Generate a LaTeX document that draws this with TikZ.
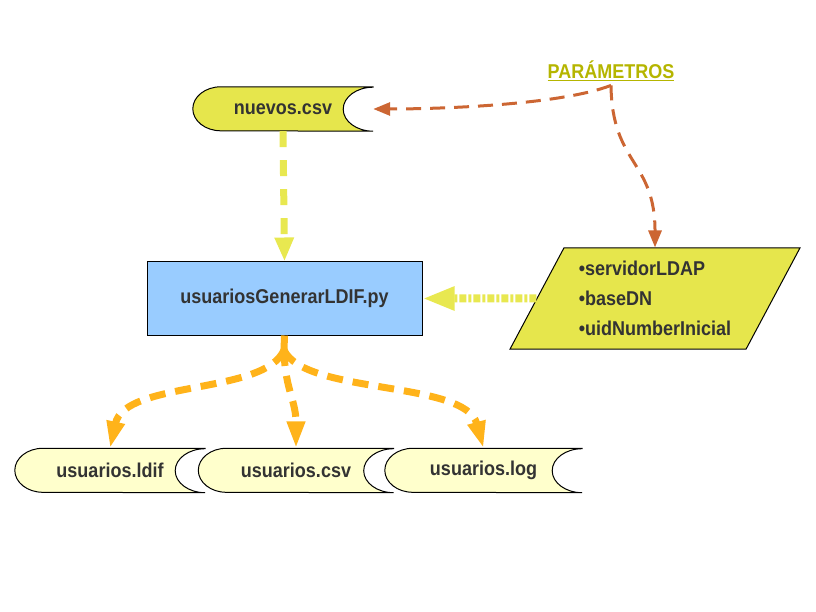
\documentclass[tikz,border=0pt]{standalone}
\usepackage{fontspec}
\setmainfont{Liberation Sans}[FakeStretch=0.9]
\usetikzlibrary{shapes.geometric, arrows.meta, positioning, calc, backgrounds}
\definecolor{fileyellow}{HTML}{E6E64C}
\definecolor{palefile}{HTML}{FFFFCC}
\definecolor{boxblue}{HTML}{99CCFF}
\definecolor{textgray}{HTML}{333333}
\definecolor{paramgold}{HTML}{B5B500}
\definecolor{paramorange}{HTML}{CC6633}
\definecolor{outamber}{HTML}{FFB31A}
\definecolor{inyellow}{HTML}{E8E850}
\newcommand{\boxfont}{\fontsize{20}{30}\selectfont\bfseries}
\newcommand{\storedfile}[2]{%
  \begin{pgfonlayer}{background}
  \filldraw[fill=#2, draw=black, line width=1pt] (#1.north east) -- ($(#1.north west)+(28,0)$)
    arc[start angle=90, end angle=270, x radius=28pt, y radius=22pt]
    -- (#1.south east)
    arc[start angle=270, end angle=90, x radius=30pt, y radius=22pt] -- cycle;
  \end{pgfonlayer}}
\tikzset{
    file/.style={rectangle, minimum width=180pt, minimum height=44pt, inner sep=0pt, text centered, text=textgray, font=\boxfont},
    process/.style={rectangle, draw=black, line width=1pt, fill=boxblue, minimum width=275pt, minimum height=73pt, text centered, text=textgray, font=\boxfont},
    paramset/.style={trapezium, trapezium left angle=60, trapezium right angle=120, trapezium stretches, minimum width=290pt, minimum height=101pt, draw=black, line width=1pt, fill=fileyellow, align=left, text=textgray, font=\boxfont},
    paramlabel/.style={text=paramgold, font=\boxfont, inner sep=4pt},
    inflow/.style={draw=inyellow, line width=7pt, dash pattern=on 16pt off 13pt, -{Triangle[length=24pt, width=18pt]}},
    paramfeed/.style={draw=inyellow, line width=8pt, dash pattern=on 7pt off 2pt on 3pt off 2pt, -{Triangle[length=32pt, width=22pt]}},
    paramflow/.style={draw=paramorange, line width=3pt, dash pattern=on 15pt off 9pt, -{Triangle[length=17pt, width=13pt]}},
    outflow/.style={draw=outamber, line width=7pt, dash pattern=on 16pt off 10pt, -{Triangle[length=27pt, width=17pt]}}
}
\begin{document}
\begin{tikzpicture}[x=1pt, y=-1pt]
    \useasboundingbox (0,0) rectangle (816,612);
    % Nodes
    \node (nuevos) [file] at (283,109) {nuevos.csv};
    \node (gen) [process] at (284.5,298.5) {usuariosGenerarLDIF.py};
    \node (params) [paramset] at (655,298.5) {•servidorLDAP\\•baseDN\\•uidNumberInicial};
    \node (plabel) [paramlabel, anchor=base] at (611,79) {\underline{PARÁMETROS}};
    \node (ldif) [file, minimum width=190pt] at (110,470.5) {usuarios.ldif};
    \node (csv) [file, minimum width=195pt] at (296,470.5) {usuarios.csv};
    \node (log) [file, minimum width=197pt] at (483.5,470.5) {usuarios.log};
    \coordinate (fork) at (284,350);
    % File shapes
    \storedfile{nuevos}{fileyellow}
    \storedfile{ldif}{palefile}
    \storedfile{csv}{palefile}
    \storedfile{log}{palefile}
    % Arrows
    \draw [inflow] (nuevos.south) -- (gen.north);
    \draw [paramfeed] (params.west) -- (gen.east);
    \draw [paramflow] (plabel.south) .. controls (560,105) and (440,109) .. (nuevos.east);
    \draw [paramflow] (plabel.south) .. controls (612,165) and (655,160) .. (params.north);
    \draw [draw=outamber, line width=7pt] (gen.south) -- (fork);
    \draw [outflow] (fork) .. controls (265,395) and (125,380) .. (ldif.north);
    \draw [outflow] (fork) .. controls (285,390) and (296,400) .. (csv.north);
    \draw [outflow] (fork) .. controls (305,395) and (465,380) .. (log.north);
\end{tikzpicture}
\end{document}
